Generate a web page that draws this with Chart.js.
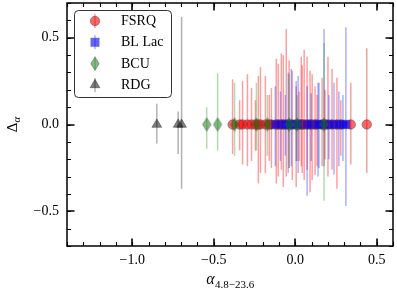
<!DOCTYPE html>
<html>
<head>
<meta charset="utf-8">
<script src="https://cdn.jsdelivr.net/npm/chart.js@4/dist/chart.umd.min.js"></script>
<style>
  body { margin: 0; background: #fff; }
  canvas { display: block; }
</style>
</head>
<body>
<canvas id="grafico" width="397" height="292"></canvas>
<script>
// datos (todos en y = 0)
var fsrqX  = [-0.384, -0.341, -0.323, -0.293, -0.268, -0.244, -0.226, -0.213, -0.183, -0.159, -0.146, -0.116, -0.104, -0.085, -0.073, -0.055, -0.037, -0.018, 0.006, 0.024, 0.037, 0.043, 0.055, 0.073, 0.091, 0.104, 0.122, 0.134, 0.165, 0.183, 0.201, 0.226, 0.256, 0.28, 0.341, 0.439];
var fsrqHi = [0.26, 0.14, 0.25, 0.29, 0.21, 0.14, 0.28, 0.33, 0.28, 0.17, 0.21, 0.38, 0.35, 0.41, 0.40, 0.55, 0.37, 0.31, 0.22, 0.19, 0.39, 0.34, 0.43, 0.39, 0.31, 0.29, 0.22, 0.17, 0.27, 0.20, 0.39, 0.32, 0.27, 0.14, 0.24, 0.44];
var fsrqLo = [0.17, 0.15, 0.23, 0.24, 0.21, 0.15, 0.34, 0.28, 0.28, 0.21, 0.25, 0.34, 0.30, 0.26, 0.36, 0.30, 0.25, 0.32, 0.36, 0.21, 0.24, 0.28, 0.32, 0.26, 0.39, 0.32, 0.29, 0.24, 0.24, 0.20, 0.30, 0.26, 0.37, 0.18, 0.23, 0.28];

var blX  = [-0.122, -0.091, -0.061, -0.043, -0.024, 0.006, 0.018, 0.073, 0.098, 0.140, 0.146, 0.177, 0.207, 0.238, 0.268, 0.293, 0.311];
var blHi = [0.22, 0.19, 0.17, 0.30, 0.32, 0.25, 0.28, 0.22, 0.18, 0.24, 0.24, 0.55, 0.17, 0.24, 0.19, 0.17, 0.56];
var blLo = [0.24, 0.21, 0.18, 0.28, 0.24, 0.21, 0.28, 0.41, 0.21, 0.30, 0.25, 0.24, 0.20, 0.29, 0.24, 0.21, 0.47];

var bcuX  = [-0.543, -0.476, -0.372, -0.238, -0.171, -0.037, 0.012, 0.177];
var bcuHi = [0.10, 0.295, 0.24, 0.24, 0.17, 0.29, 0.17, 0.47];
var bcuLo = [0.14, 0.15, 0.18, 0.15, 0.18, 0.25, 0.21, 0.44];

var rdgX  = [-0.849, -0.718, -0.697];
var rdgHi = [0.12, 0.075, 0.62];
var rdgLo = [0.11, 0.17, 0.37];

var categorias = ['FSRQ', 'BL Lac', 'BCU', 'RDG'];
var xTicks = [-1.0, -0.5, 0.0, 0.5];
var yTicks = [-0.5, 0.0, 0.5];

var fuente = 'Liberation Serif, Times New Roman, serif';

// rombo fino (marcador 'd' de matplotlib)
function hacerRombo(fill, stroke) {
    var c = document.createElement('canvas');
    c.width = 12; c.height = 16;
    var g = c.getContext('2d');
    g.beginPath();
    g.moveTo(6, 1.5); g.lineTo(10.2, 8); g.lineTo(6, 14.5); g.lineTo(1.8, 8); g.closePath();
    g.fillStyle = fill; g.fill();
    g.lineWidth = 1; g.strokeStyle = stroke; g.stroke();
    return c;
}
var rombo = hacerRombo('rgba(0,128,0,0.5)', 'rgba(80,80,80,0.55)');

function puntos(xs) {
    return xs.map(function (v) { return { x: v, y: 0 }; });
}

var datasets = [
    { label: categorias[0], data: puntos(fsrqX), hi: fsrqHi, lo: fsrqLo, errColor: 'rgba(255,0,0,0.38)',
      pointStyle: 'circle', pointRadius: 4.7, backgroundColor: 'rgba(255,0,0,0.6)', borderColor: 'rgba(80,80,80,0.55)', borderWidth: 1, order: 4 },
    { label: categorias[1], data: puntos(blX), hi: blHi, lo: blLo, errColor: 'rgba(0,0,255,0.32)',
      pointStyle: 'rect', pointRadius: 6, backgroundColor: 'rgba(0,0,255,0.6)', borderColor: 'rgba(80,80,80,0.4)', borderWidth: 0.8, order: 3 },
    { label: categorias[2], data: puntos(bcuX), hi: bcuHi, lo: bcuLo, errColor: 'rgba(0,128,0,0.3)',
      pointStyle: rombo, pointRadius: 6, backgroundColor: 'rgba(0,128,0,0.5)', borderColor: 'rgba(80,80,80,0.55)', borderWidth: 1, order: 2 },
    { label: categorias[3], data: puntos(rdgX), hi: rdgHi, lo: rdgLo, errColor: 'rgba(0,0,0,0.3)',
      pointStyle: 'triangle', pointRadius: 5.6, backgroundColor: 'rgba(0,0,0,0.5)', borderColor: 'rgba(60,60,60,0.5)', borderWidth: 1, order: 1 }
];

function formato(v) {
    return v.toFixed(1).replace('-', '\u2212');
}

// barras de error dibujadas antes de cada serie
var barrasError = {
    id: 'barrasError',
    beforeDatasetDraw: function (chart, args) {
        var ds = chart.data.datasets[args.index];
        var ctx = chart.ctx, sx = chart.scales.x, sy = chart.scales.y, a = chart.chartArea;
        ctx.save();
        ctx.beginPath();
        ctx.rect(a.left, a.top, a.right - a.left, a.bottom - a.top);
        ctx.clip();
        ctx.strokeStyle = ds.errColor;
        ctx.lineWidth = 1.5;
        ds.data.forEach(function (p, i) {
            var px = sx.getPixelForValue(p.x);
            ctx.beginPath();
            ctx.moveTo(px, sy.getPixelForValue(p.y + ds.hi[i]));
            ctx.lineTo(px, sy.getPixelForValue(p.y - ds.lo[i]));
            ctx.stroke();
        });
        ctx.restore();
    }
};

// marco, ticks hacia dentro, leyenda y titulos
var decoracion = {
    id: 'decoracion',
    afterDraw: function (chart) {
        var ctx = chart.ctx, sx = chart.scales.x, sy = chart.scales.y, a = chart.chartArea;
        ctx.save();
        ctx.strokeStyle = '#000';

        // ticks menores cada 0.1
        ctx.lineWidth = 1.1;
        for (var k = -14; k <= 6; k++) {
            var x = Math.round(sx.getPixelForValue(k / 10)) + 0.5;
            ctx.beginPath();
            ctx.moveTo(x, a.bottom); ctx.lineTo(x, a.bottom - 4);
            ctx.moveTo(x, a.top); ctx.lineTo(x, a.top + 4);
            ctx.stroke();
        }
        for (var k = -7; k <= 7; k++) {
            var y = Math.round(sy.getPixelForValue(k / 10)) + 0.5;
            ctx.beginPath();
            ctx.moveTo(a.left, y); ctx.lineTo(a.left + 4, y);
            ctx.moveTo(a.right, y); ctx.lineTo(a.right - 4, y);
            ctx.stroke();
        }
        // ticks mayores
        ctx.lineWidth = 1.6;
        xTicks.forEach(function (v) {
            var x = Math.round(sx.getPixelForValue(v));
            ctx.beginPath();
            ctx.moveTo(x, a.bottom); ctx.lineTo(x, a.bottom - 7.5);
            ctx.moveTo(x, a.top); ctx.lineTo(x, a.top + 7.5);
            ctx.stroke();
        });
        yTicks.forEach(function (v) {
            var y = Math.round(sy.getPixelForValue(v));
            ctx.beginPath();
            ctx.moveTo(a.left, y); ctx.lineTo(a.left + 7.5, y);
            ctx.moveTo(a.right, y); ctx.lineTo(a.right - 7.5, y);
            ctx.stroke();
        });
        // marco
        ctx.lineWidth = 1.5;
        ctx.strokeRect(a.left, a.top, a.right - a.left, a.bottom - a.top);

        // leyenda
        var lx = 74, ly = 10, lw = 97, lh = 87;
        ctx.beginPath();
        ctx.roundRect(lx + 0.5, ly + 0.5, lw, lh, 4);
        ctx.fillStyle = 'rgba(255,255,255,0.85)';
        ctx.fill();
        ctx.lineWidth = 1;
        ctx.strokeStyle = '#333';
        ctx.stroke();
        ctx.font = '14px ' + fuente;
        ctx.textBaseline = 'middle';
        ctx.textAlign = 'left';
        chart.data.datasets.forEach(function (ds, i) {
            var cy = 21 + i * 21.3, cx = 95;
            ctx.strokeStyle = ds.errColor;
            ctx.lineWidth = 1.5;
            ctx.beginPath();
            ctx.moveTo(cx, cy - 7); ctx.lineTo(cx, cy + 7);
            ctx.stroke();
            ctx.fillStyle = ds.backgroundColor;
            ctx.strokeStyle = ds.borderColor;
            ctx.lineWidth = ds.borderWidth;
            Chart.helpers.drawPoint(ctx, {
                pointStyle: ds.pointStyle, radius: ds.pointRadius, borderWidth: ds.borderWidth, rotation: 0
            }, cx, cy);
            ctx.fillStyle = '#000';
            ctx.fillText(ds.label, 121, cy + 0.5);
        });

        // titulo eje x: alpha_{4.8-23.6}
        ctx.fillStyle = '#000';
        ctx.textBaseline = 'alphabetic';
        var t1 = '\u03b1', t2 = '4.8\u221223.6';
        ctx.font = 'italic 16px ' + fuente;
        var w1 = ctx.measureText(t1).width;
        ctx.font = '11px ' + fuente;
        var w2 = ctx.measureText(t2).width;
        var x0 = (a.left + a.right) / 2 - (w1 + w2) / 2;
        ctx.font = 'italic 16px ' + fuente;
        ctx.fillText(t1, x0, 284);
        ctx.font = '11px ' + fuente;
        ctx.fillText(t2, x0 + w1 + 0.5, 288);

        // titulo eje y: Delta_alpha
        ctx.save();
        ctx.translate(17, (a.top + a.bottom) / 2);
        ctx.rotate(-Math.PI / 2);
        ctx.font = '15px ' + fuente;
        var d1 = ctx.measureText('\u0394').width;
        ctx.font = 'italic 11px ' + fuente;
        var d2 = ctx.measureText('\u03b1').width;
        var y0 = -(d1 + d2) / 2;
        ctx.font = '15px ' + fuente;
        ctx.fillText('\u0394', y0, 0);
        ctx.font = 'italic 11px ' + fuente;
        ctx.fillText('\u03b1', y0 + d1, 3);
        ctx.restore();

        ctx.restore();
    }
};

var myChart = new Chart(document.getElementById('grafico').getContext('2d'), {
    type: 'scatter',
    data: { datasets: datasets },
    options: {
        responsive: false,
        animation: false,
        events: [],
        layout: { autoPadding: false, padding: { top: 3, right: 4, left: 0, bottom: 0 } },
        scales: {
            x: {
                type: 'linear', min: -1.4, max: 0.6,
                afterBuildTicks: function (s) { s.ticks = xTicks.map(function (v) { return { value: v }; }); },
                afterFit: function (s) { s.height = 46; s.paddingLeft = 0; s.paddingRight = 0; },
                grid: { display: false, drawTicks: false },
                border: { display: false },
                ticks: { color: '#000', padding: 6, maxRotation: 0, font: { family: fuente, size: 14 }, callback: formato }
            },
            y: {
                type: 'linear', min: -0.7, max: 0.7,
                afterBuildTicks: function (s) { s.ticks = yTicks.map(function (v) { return { value: v }; }); },
                afterFit: function (s) { s.width = 67; s.paddingTop = 0; s.paddingBottom = 0; },
                grid: { display: false, drawTicks: false },
                border: { display: false },
                ticks: { color: '#000', padding: 8, font: { family: fuente, size: 14 }, callback: formato }
            }
        },
        plugins: { legend: { display: false }, tooltip: { enabled: false } }
    },
    plugins: [barrasError, decoracion]
});
</script>
</body>
</html>
